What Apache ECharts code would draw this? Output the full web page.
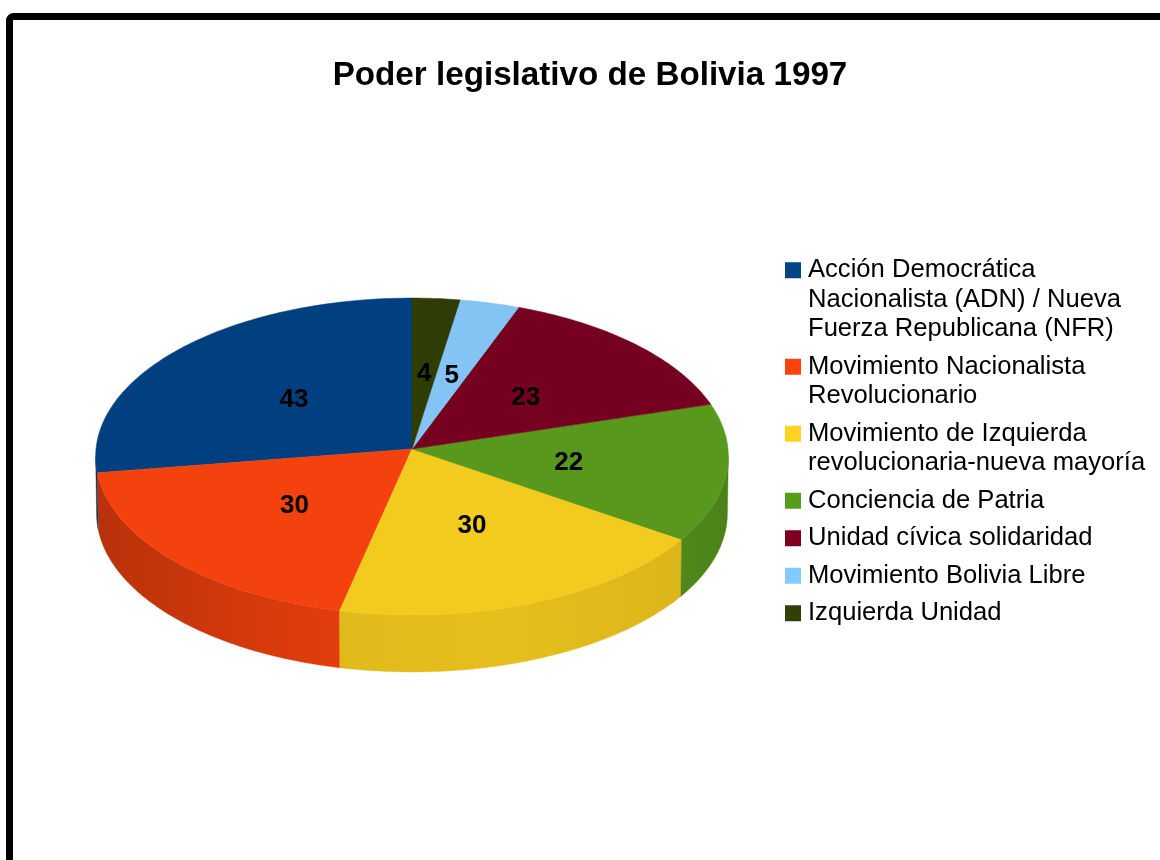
<!DOCTYPE html>
<html>
<head>
<meta charset="utf-8">
<style>html,body{margin:0;padding:0;background:#fff;overflow:hidden}#c{width:1160px;height:860px}</style>
<script src="https://cdn.jsdelivr.net/npm/echarts@6/dist/echarts.min.js"></script>
</head>
<body>
<div id="c"></div>
<script>
const chartTitle = 'Poder legislativo de Bolivia 1997';
const partyNames = [
  'Acción Democrática Nacionalista (ADN) / Nueva Fuerza Republicana (NFR)',
  'Movimiento Nacionalista Revolucionario',
  'Movimiento de Izquierda revolucionaria-nueva mayoría',
  'Conciencia de Patria',
  'Unidad cívica solidaridad',
  'Movimiento Bolivia Libre',
  'Izquierda Unidad'
];
const legendLines = [
  ['Acción Democrática', 'Nacionalista (ADN) / Nueva', 'Fuerza Republicana (NFR)'],
  ['Movimiento Nacionalista', 'Revolucionario'],
  ['Movimiento de Izquierda', 'revolucionaria-nueva mayoría'],
  ['Conciencia de Patria'],
  ['Unidad cívica solidaridad'],
  ['Movimiento Bolivia Libre'],
  ['Izquierda Unidad']
];
const seats = [43, 30, 30, 22, 23, 5, 4];
const legendColors = ['#004586', '#ff420e', '#ffd320', '#579d1c', '#7e0021', '#83caff', '#314004'];
const faceColors = ['#004080', '#f4420e', '#f3ca1e', '#58981c', '#750020', '#83c4f5', '#2f3d04'];

// Perspective disc used for the tilted pie
const disc = { cx: 412, cy: 449, rx: 316, ry: 158.1, k: -0.0473, depth: 57, shrink: 0.997 };
const wallFrom = 92.7, wallTo = 267.3; // rim angles where the wall meets the silhouette
const shadeStops = [[85, .72], [130, .80], [165, .92], [195, .945], [236, .90], [275, .82]];

const total = seats.reduce((a, b) => a + b, 0);
const startAngles = seats.map((_, i) => seats.slice(0, i).reduce((a, b) => a + b, 0) / total * 360);

function project(deg, r, lower) {
  const t = deg * Math.PI / 180;
  const x = -Math.sin(t) * r, y = -Math.cos(t) * r;
  const d = 1 + disc.k * y;
  const s = lower ? disc.shrink : 1;
  return [disc.cx + disc.rx * s * x / d, disc.cy + disc.ry * y / d + (lower ? disc.depth : 0)];
}
function shadeFor(deg) {
  for (let i = 1; i < shadeStops.length; i++) {
    const a = shadeStops[i - 1], b = shadeStops[i];
    if (deg <= b[0]) {
      const f = Math.max(0, (deg - a[0]) / (b[0] - a[0]));
      return a[1] + (b[1] - a[1]) * f;
    }
  }
  return .82;
}
function shaded(hex, m) {
  const n = parseInt(hex.slice(1), 16);
  return 'rgb(' + [(n >> 16) & 255, (n >> 8) & 255, n & 255].map(v => Math.round(v * m)).join(',') + ')';
}
function sliceRenderer(idx) {
  return function (params, api) {
    const value = api.value(0);
    const from = startAngles[idx], span = value / total * 360, to = from + span;
    const children = [];
    // side wall: only the part of the rim that faces the viewer (x grows monotonically there)
    const a0 = Math.max(from, wallFrom), a1 = Math.min(to, wallTo);
    if (a1 > a0) {
      const n = Math.max(4, Math.round(a1 - a0));
      const up = [], low = [], stops = [];
      const xA = project(a0, 1)[0], xB = project(a1, 1)[0];
      for (let i = 0; i <= n; i++) {
        const a = a0 + (a1 - a0) * i / n;
        up.push(project(a, 1));
        low.unshift(project(a, 1, true));
        const off = Math.min(1, Math.max(0, (project(a, 1)[0] - xA) / (xB - xA)));
        stops.push({ offset: off, color: shaded(faceColors[idx], shadeFor(a)) });
      }
      const fill = new echarts.graphic.LinearGradient(xA, 0, xB, 0, stops, true);
      children.push({
        type: 'polygon', z2: 10, silent: true,
        shape: { points: up.concat(low) },
        style: { fill: fill, stroke: fill, lineWidth: 0.4 }
      });
    }
    // top face
    const fine = [[disc.cx, disc.cy]];
    const fineSteps = Math.max(8, Math.round(span));
    for (let i = 0; i <= fineSteps; i++) fine.push(project(from + span * i / fineSteps, 1));
    children.push({
      type: 'polygon', z2: 20, silent: true,
      shape: { points: fine },
      style: { fill: faceColors[idx], stroke: faceColors[idx], lineWidth: 0.5 }
    });
    // value label
    const lp = project(from + span / 2, 0.5);
    children.push({
      type: 'text', z2: 30, silent: true,
      x: lp[0], y: lp[1] + 2,
      style: {
        text: String(value), fill: '#000', align: 'center', verticalAlign: 'middle',
        font: 'bold 26px "Liberation Sans", Arial, sans-serif'
      }
    });
    return { type: 'group', children };
  };
}

const legendRich = {
  t: { fontFamily: '"Liberation Sans", Arial, sans-serif', fontSize: 25.6, color: '#000', lineHeight: 29.5, height: 29.5 },
  g: { width: 7, height: 16, lineHeight: 29.5 },
  i: { width: 23, height: 16, lineHeight: 29.5 }
};
legendColors.forEach((c, i) => {
  legendRich['s' + i] = { width: 16, height: 16, backgroundColor: c, lineHeight: 29.5 };
});

const chart = echarts.init(document.getElementById('c'), null, { renderer: 'canvas', width: 1160, height: 860 });
chart.setOption({
  animation: false,
  backgroundColor: '#ffffff',
  title: {
    text: chartTitle, left: 585, top: 54, textAlign: 'center',
    textStyle: { fontFamily: '"Liberation Sans", Arial, sans-serif', fontWeight: 'bold', fontSize: 33.2, color: '#000' }
  },
  legend: {
    orient: 'vertical', left: 779, top: 255.5, padding: 0,
    icon: 'none', itemWidth: 1, itemHeight: 1, itemGap: 8,
    selectedMode: false,
    data: partyNames.map(name => ({ name, icon: 'none' })),
    textStyle: { rich: legendRich, fontSize: 25.6, lineHeight: 29.5 },
    formatter: name => {
      const i = partyNames.indexOf(name);
      return legendLines[i].map((line, n) =>
        (n === 0 ? '{s' + i + '|}{g|}' : '{i|}') + '{t|' + line + '}').join('\n');
    }
  },
  graphic: [{
    type: 'rect', z: -1, silent: true,
    shape: { x: 9.5, y: 16.5, width: 1400, height: 1100, r: 4 },
    style: { fill: 'none', stroke: '#000', lineWidth: 7 }
  }],
  series: partyNames.map((name, i) => ({
    type: 'custom', name, coordinateSystem: 'none', silent: true,
    itemStyle: { color: legendColors[i] },
    data: [[seats[i]]],
    encode: { value: 0 },
    renderItem: sliceRenderer(i)
  }))
});
</script>
</body>
</html>
